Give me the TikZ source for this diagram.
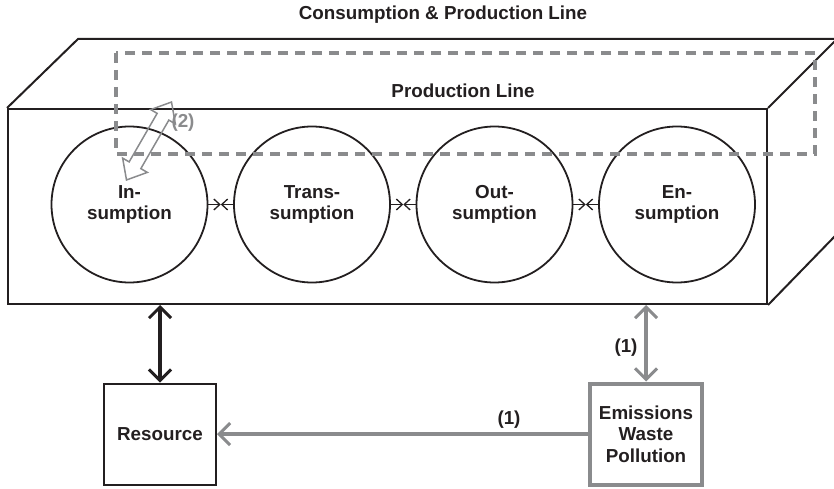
\documentclass[tikz,border=0pt]{standalone}
\usepackage{fontspec}
\setmainfont{Liberation Sans}
\usetikzlibrary{arrows.meta,shapes.arrows,calc}
\definecolor{ink}{RGB}{35,31,32}
\definecolor{gry}{RGB}{138,139,141}
\begin{document}
\begin{tikzpicture}[x=1pt,y=-1pt,
  font=\fontsize{18.8}{21.5}\selectfont\bfseries,
  circ/.style={circle, draw=ink, line width=1.8pt, minimum size=156pt, inner sep=0pt, align=center, text=ink},
  flowarr/.style={draw=ink, line width=1.3pt, -{Straight Barb[length=6pt,width=11pt,line width=1.3pt]}},
  box/.style={rectangle, line width=2pt, minimum width=112pt, minimum height=101pt, inner sep=0pt, text=ink, align=center},
  edge/.style={draw=ink, line width=2pt, line join=miter},
  bigarr/.style={line width=4pt, {Straight Barb[length=11pt,width=22pt,line width=3pt]}-{Straight Barb[length=11pt,width=22pt,line width=3pt]}},
  lbl/.style={text=gry, inner sep=0pt},
  ttl/.style={text=ink, inner sep=0pt}]
\useasboundingbox (0,0) rectangle (834,489);
\clip (0,0) rectangle (834,489);
% front face
\node[rectangle, edge, minimum width=759pt, minimum height=195pt, inner sep=0pt] (front) at (387.5,206.5) {};
\coordinate (tl) at (78,39);
\coordinate (tr) at (837,39);
\coordinate (br) at (837,234);
\draw[edge] (front.north west) -- (tl) -- (tr) -- (front.north east);
\draw[edge] (tr) -- (br) -- (front.south east);
% circles
\node[circ] (in) at (129.5,204.5) {In-\\sumption};
\node[circ] (trans) at (312,204.5) {Trans-\\sumption};
\node[circ] (out) at (494.5,204.5) {Out-\\sumption};
\node[circ] (en) at (677,204.5) {En-\\sumption};
\coordinate (m1) at ($(in.east)!0.5!(trans.west)$);
\coordinate (m2) at ($(trans.east)!0.5!(out.west)$);
\coordinate (m3) at ($(out.east)!0.5!(en.west)$);
\draw[flowarr] (in.east) -- (m1);
\draw[flowarr] (trans.west) -- (m1);
\draw[flowarr] (trans.east) -- (m2);
\draw[flowarr] (out.west) -- (m2);
\draw[flowarr] (out.east) -- (m3);
\draw[flowarr] (en.west) -- (m3);
% production line dashed
\draw[gry, line width=4pt, dash pattern=on 10pt off 7pt] (116,53) rectangle (815,154);
% titles
\node[ttl] (t1) at (443,15) {Consumption \& Production Line};
\node[ttl] (t2) at (463,91) {Production Line};
% hollow double arrow (2)
\node[double arrow, draw=gry, line width=1.5pt, rotate=60, minimum height=90pt, inner sep=6pt, double arrow head extend=7.5pt, double arrow tip angle=80] (da) at (149,141) {};
\node[lbl] (l2) at (183,123) {(2)};
% lower boxes
\node[box, draw=ink] (res) at (160,434) {Resource};
\node[box, draw=gry, line width=4pt] (emi) at (646,434) {Emissions\\Waste\\Pollution};
\draw[bigarr, ink] (res.north |- front.south) -- (res.north);
\draw[bigarr, gry] (emi.north |- front.south) -- (emi.north);
\draw[gry, line width=4pt, -{Straight Barb[length=11pt,width=22pt,line width=3pt]}] (emi.west) -- (emi.west -| res.east);
\node[ttl] (l1a) at (626,348) {(1)};
\node[ttl] (l1b) at (509,420) {(1)};
\end{tikzpicture}
\end{document}
